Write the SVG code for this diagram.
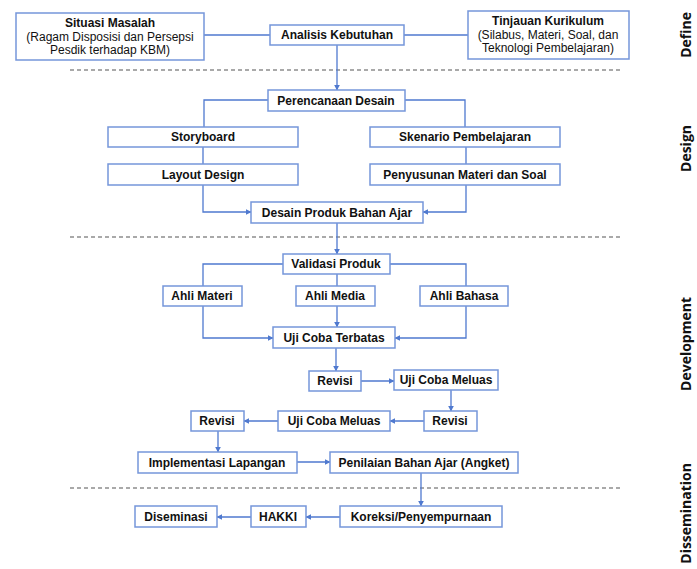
<svg xmlns="http://www.w3.org/2000/svg" width="697" height="569" viewBox="0 0 697 569">
<style>
.box{fill:#fff;stroke:#7596da;stroke-width:1.5}
.t{font-family:"Liberation Sans",Arial,sans-serif;font-size:12px;font-weight:bold;fill:#111;text-anchor:middle}
.r{font-weight:normal}
.c{fill:none;stroke:#4f79cf;stroke-width:1.3}
.d{stroke:#555;stroke-width:1.2;stroke-dasharray:4 3}
.side{font-family:"Open Sans","DejaVu Sans",sans-serif;font-size:14px;font-weight:bold;fill:#111;text-anchor:end}
</style>
<defs>
<marker id="a" viewBox="0 0 10 10" refX="9" refY="5" markerWidth="6" markerHeight="6" orient="auto" markerUnits="userSpaceOnUse">
<path d="M0,0 L10,5 L0,10 z" fill="#4f79cf"/>
</marker>
</defs>
<rect width="697" height="569" fill="#fff"/>
<g id="dividers">
<line class="d" x1="70" y1="70" x2="620" y2="70"/>
<line class="d" x1="70" y1="237" x2="620" y2="237"/>
<line class="d" x1="70" y1="488" x2="620" y2="488"/>
</g>
<g id="phases">
<text class="side" transform="translate(691,12) rotate(-90)">Define</text>
<text class="side" transform="translate(691,125) rotate(-90)">Design</text>
<text class="side" transform="translate(691,297) rotate(-90)">Development</text>
<text class="side" transform="translate(691,463) rotate(-90)">Dissemination</text>
</g>
<g id="connectors">
<path class="c" d="M204,35 H270"/>
<path class="c" d="M404,35 H468"/>
<path class="c" d="M337,45 V90" marker-end="url(#a)"/>
<path class="c" d="M268,100 H204 V127"/>
<path class="c" d="M405,100 H465 V127"/>
<path class="c" d="M203,147 V164"/>
<path class="c" d="M466,147 V164"/>
<path class="c" d="M203,185 V212 H251" marker-end="url(#a)"/>
<path class="c" d="M466,185 V212 H423" marker-end="url(#a)"/>
<path class="c" d="M337,223 V254" marker-end="url(#a)"/>
<path class="c" d="M283,264 H203 V286"/>
<path class="c" d="M390,264 H466 V286"/>
<path class="c" d="M337,274 V286"/>
<path class="c" d="M203,306 V338 H273" marker-end="url(#a)"/>
<path class="c" d="M337,306 V327" marker-end="url(#a)"/>
<path class="c" d="M466,306 V338 H395" marker-end="url(#a)"/>
<path class="c" d="M336,348 V371" marker-end="url(#a)"/>
<path class="c" d="M361,381 H394" marker-end="url(#a)"/>
<path class="c" d="M451,390 V411" marker-end="url(#a)"/>
<path class="c" d="M424,421 H390" marker-end="url(#a)"/>
<path class="c" d="M278,421 H244" marker-end="url(#a)"/>
<path class="c" d="M218,431 V452" marker-end="url(#a)"/>
<path class="c" d="M297,462 H330" marker-end="url(#a)"/>
<path class="c" d="M421,473 V506" marker-end="url(#a)"/>
<path class="c" d="M340,517 H306" marker-end="url(#a)"/>
<path class="c" d="M251,517 H217" marker-end="url(#a)"/>
</g>
<g id="situasi"><rect class="box" x="16" y="13" width="188" height="47"/>
<text class="t" x="110" y="27">Situasi Masalah</text>
<text class="t r" x="110" y="41">(Ragam Disposisi dan Persepsi</text>
<text class="t r" x="110" y="54">Pesdik terhadap KBM)</text></g>
<g id="analisis"><rect class="box" x="270" y="25" width="134" height="20"/><text class="t" x="337" y="39">Analisis Kebutuhan</text></g>
<g id="tinjauan"><rect class="box" x="468" y="11" width="161" height="48"/>
<text class="t" x="548" y="25">Tinjauan Kurikulum</text>
<text class="t r" x="548" y="39">(Silabus, Materi, Soal, dan</text>
<text class="t r" x="548" y="52">Teknologi Pembelajaran)</text></g>
<g id="perencanaan"><rect class="box" x="268" y="90" width="137" height="21"/><text class="t" x="336" y="104.5">Perencanaan Desain</text></g>
<g id="storyboard"><rect class="box" x="108" y="127" width="190" height="20"/><text class="t" x="203" y="141">Storyboard</text></g>
<g id="skenario"><rect class="box" x="370" y="127" width="190" height="20"/><text class="t" x="465" y="141">Skenario Pembelajaran</text></g>
<g id="layout"><rect class="box" x="108" y="164" width="190" height="21"/><text class="t" x="203" y="178.5">Layout Design</text></g>
<g id="penyusunan"><rect class="box" x="370" y="164" width="190" height="21"/><text class="t" x="465" y="178.5">Penyusunan Materi dan Soal</text></g>
<g id="desain"><rect class="box" x="251" y="202" width="172" height="21"/><text class="t" x="337" y="216.5">Desain Produk Bahan Ajar</text></g>
<g id="validasi"><rect class="box" x="283" y="254" width="107" height="20"/><text class="t" x="336" y="268">Validasi Produk</text></g>
<g id="materi"><rect class="box" x="163" y="286" width="79" height="20"/><text class="t" x="202" y="300">Ahli Materi</text></g>
<g id="media"><rect class="box" x="296" y="286" width="79" height="20"/><text class="t" x="335" y="300">Ahli Media</text></g>
<g id="bahasa"><rect class="box" x="420" y="286" width="88" height="20"/><text class="t" x="464" y="300">Ahli Bahasa</text></g>
<g id="terbatas"><rect class="box" x="273" y="327" width="122" height="21"/><text class="t" x="334" y="341.5">Uji Coba Terbatas</text></g>
<g id="revisi1"><rect class="box" x="309" y="371" width="52" height="20"/><text class="t" x="335" y="385">Revisi</text></g>
<g id="meluas1"><rect class="box" x="394" y="370" width="104" height="20"/><text class="t" x="446" y="384">Uji Coba Meluas</text></g>
<g id="revisi2"><rect class="box" x="424" y="411" width="53" height="20"/><text class="t" x="450" y="425">Revisi</text></g>
<g id="meluas2"><rect class="box" x="278" y="411" width="112" height="20"/><text class="t" x="334" y="425">Uji Coba Meluas</text></g>
<g id="revisi3"><rect class="box" x="191" y="411" width="53" height="20"/><text class="t" x="217" y="425">Revisi</text></g>
<g id="implementasi"><rect class="box" x="138" y="452" width="159" height="21"/><text class="t" x="217" y="466.5">Implementasi Lapangan</text></g>
<g id="penilaian"><rect class="box" x="330" y="452" width="188" height="21"/><text class="t" x="424" y="466.5">Penilaian Bahan Ajar (Angket)</text></g>
<g id="koreksi"><rect class="box" x="340" y="506" width="162" height="21"/><text class="t" x="421" y="520.5">Koreksi/Penyempurnaan</text></g>
<g id="hakki"><rect class="box" x="251" y="506" width="55" height="21"/><text class="t" x="278" y="520.5">HAKKI</text></g>
<g id="diseminasi"><rect class="box" x="135" y="506" width="82" height="21"/><text class="t" x="176" y="520.5">Diseminasi</text></g>
</svg>
